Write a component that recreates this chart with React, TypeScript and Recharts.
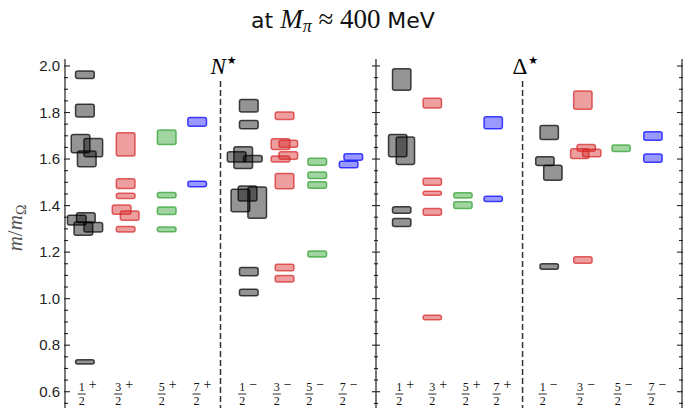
import React from "react";
import { ComposedChart, XAxis, YAxis, ReferenceArea, ReferenceLine } from "recharts";

// J^P columns, in the order they sit across each panel
const J_NUMERATORS = ["1", "3", "5", "7", "1", "3", "5", "7"];
const PARITIES = ["+", "+", "+", "+", "\u2212", "\u2212", "\u2212", "\u2212"];

// x of each J^P column (panel units, 0..10)
const N_COLUMNS = [0.64, 1.95, 3.27, 4.25, 5.91, 7.06, 8.11, 9.2];
const D_COLUMNS = [0.84, 1.84, 2.84, 3.83, 5.66, 6.76, 8.01, 9.05];

// where the J^P tick labels sit
const N_LABEL_X = [0.54, 1.71, 3.11, 4.23, 5.7, 6.81, 7.85, 8.93];
const D_LABEL_X = [0.76, 1.84, 2.93, 3.94, 5.45, 6.67, 7.9, 9.0];

// parity split (dashed line)
const N_SPLIT = 5.0;
const D_SPLIT = 4.79;

// levels: [column, shift, m/mOmega, half error]
const N_LEVELS: [number, number, number, number][] = [
  [0, 0, 1.962, 0.016],
  [0, 0, 1.808, 0.027],
  [0, -0.14, 1.666, 0.039],
  [0, 0.27, 1.649, 0.039],
  [0, 0.06, 1.601, 0.034],
  [0, -0.26, 1.338, 0.021],
  [0, 0.03, 1.348, 0.021],
  [0, -0.05, 1.301, 0.029],
  [0, 0.27, 1.307, 0.02],
  [0, 0, 0.728, 0.009],
  [1, 0, 1.663, 0.05],
  [1, 0, 1.494, 0.021],
  [1, 0, 1.442, 0.011],
  [1, -0.13, 1.383, 0.02],
  [1, 0.13, 1.357, 0.02],
  [1, 0, 1.298, 0.012],
  [2, 0, 1.694, 0.031],
  [2, 0, 1.445, 0.011],
  [2, 0, 1.378, 0.016],
  [2, 0, 1.298, 0.01],
  [3, 0, 1.76, 0.019],
  [3, 0, 1.493, 0.012],
  [4, 0, 1.829, 0.027],
  [4, 0, 1.748, 0.018],
  [4, -0.39, 1.609, 0.022],
  [4, -0.18, 1.606, 0.047],
  [4, 0.13, 1.601, 0.014],
  [4, -0.27, 1.422, 0.048],
  [4, -0.04, 1.452, 0.032],
  [4, 0.27, 1.413, 0.067],
  [4, 0, 1.116, 0.018],
  [4, 0, 1.026, 0.014],
  [5, 0, 1.786, 0.016],
  [5, -0.13, 1.664, 0.023],
  [5, 0.12, 1.666, 0.015],
  [5, 0.12, 1.615, 0.016],
  [5, -0.13, 1.6, 0.013],
  [5, 0, 1.505, 0.033],
  [5, 0, 1.134, 0.014],
  [5, 0, 1.086, 0.014],
  [6, 0, 1.588, 0.015],
  [6, 0, 1.53, 0.014],
  [6, 0, 1.488, 0.014],
  [6, 0, 1.192, 0.013],
  [7, 0.07, 1.609, 0.014],
  [7, -0.08, 1.577, 0.014],
];

const D_LEVELS: [number, number, number, number][] = [
  [0, 0, 1.942, 0.046],
  [0, -0.13, 1.658, 0.048],
  [0, 0.12, 1.636, 0.059],
  [0, 0, 1.381, 0.014],
  [0, 0, 1.327, 0.017],
  [1, 0, 1.84, 0.021],
  [1, 0, 1.502, 0.015],
  [1, 0, 1.453, 0.009],
  [1, 0, 1.373, 0.015],
  [1, 0, 0.919, 0.01],
  [2, 0, 1.444, 0.011],
  [2, 0, 1.402, 0.014],
  [3, 0, 1.756, 0.026],
  [3, 0, 1.429, 0.011],
  [4, 0, 1.714, 0.03],
  [4, -0.14, 1.591, 0.019],
  [4, 0.12, 1.541, 0.032],
  [4, 0, 1.138, 0.012],
  [5, 0, 1.853, 0.039],
  [5, 0.11, 1.648, 0.015],
  [5, -0.1, 1.623, 0.021],
  [5, 0.29, 1.626, 0.016],
  [5, 0, 1.166, 0.014],
  [6, 0, 1.646, 0.014],
  [7, 0, 1.699, 0.018],
  [7, 0, 1.604, 0.018],
];

const Y_TICKS = [
  0.55, 0.6, 0.65, 0.7, 0.75, 0.8, 0.85, 0.9, 0.95, 1.0, 1.05, 1.1, 1.15, 1.2,
  1.25, 1.3, 1.35, 1.4, 1.45, 1.5, 1.55, 1.6, 1.65, 1.7, 1.75, 1.8, 1.85, 1.9,
  1.95, 2.0,
];

const Y_DOMAIN: [number, number] = [0.5, 2.03];
const X_DOMAIN: [number, number] = [0, 10];

const COLORS = ["#000000", "#d62728", "#2ca02c", "#0000ff"];
const FILL_OPACITY = [0.42, 0.45, 0.45, 0.4];
const BOX_HALF = 0.3;
const AXIS_COLOR = "#222";
const SERIF = "'Liberation Serif', 'DejaVu Serif', serif";

const CHART_H = 435;
const MARGIN = { top: 59, right: 0, bottom: 0, left: 0 };

function makeYTick(mode: "left" | "mid" | "right") {
  return (props: any) => {
    const { x, y, payload } = props;
    const v = payload.value;
    const major = Math.abs(v * 5 - Math.round(v * 5)) < 1e-6;
    const len = major ? 5 : 3;
    let x1 = x;
    let x2 = x;
    if (mode === "left") {
      x1 = x - 1;
      x2 = x + len;
    } else if (mode === "mid") {
      x1 = x - len + 1;
      x2 = x + len - 1;
    } else {
      x1 = x - len;
      x2 = x + 1;
    }
    return (
      <g>
        <line x1={x1} x2={x2} y1={y} y2={y} stroke={AXIS_COLOR} strokeWidth={1.1} />
        {mode === "left" && major && (
          <text
            x={x - 5}
            y={y}
            dy={5}
            textAnchor="end"
            fontSize={15}
            fontFamily="'Liberation Sans', Arial, sans-serif"
            fill="#222"
          >
            {v.toFixed(1)}
          </text>
        )}
      </g>
    );
  };
}

function makeXTick(labelX: number[]) {
  return (props: any) => {
    const { x, y, payload } = props;
    const i = labelX.indexOf(payload.value);
    if (i < 0) return <g />;
    return (
      <g fontFamily={SERIF}>
        <text x={x} y={y - 24.5} textAnchor="middle" fontSize={12} fill="#111">
          {J_NUMERATORS[i]}
        </text>
        <line x1={x - 4} x2={x + 4} y1={y - 21} y2={y - 21} stroke="#111" strokeWidth={0.9} />
        <text x={x} y={y - 10} textAnchor="middle" fontSize={12} fill="#111">
          2
        </text>
        <text x={x + 11} y={y - 26} textAnchor="middle" fontSize={14} fill="#111">
          {PARITIES[i]}
        </text>
      </g>
    );
  };
}

function Boxes(levels: [number, number, number, number][], columns: number[]) {
  return levels.map(([c, dx, m, e], i) => {
    const xc = columns[c] + dx;
    const k = c % 4;
    const col = COLORS[k];
    return (
      <ReferenceArea
        key={i}
        yAxisId="l"
        x1={xc - BOX_HALF}
        x2={xc + BOX_HALF}
        y1={m - e}
        y2={m + e}
        ifOverflow="visible"
        shape={(p: any) => (
          <rect
            x={p.x}
            y={p.y}
            width={p.width}
            height={p.height}
            rx={2}
            fill={col}
            fillOpacity={FILL_OPACITY[k]}
            stroke={col}
            strokeOpacity={0.72}
            strokeWidth={1.5}
          />
        )}
      />
    );
  });
}

function splitLabel(main: string, italic: boolean) {
  return (props: any) => {
    const vb = props.viewBox || {};
    return (
      <text x={vb.x - 10} y={vb.y - 7} fontFamily={SERIF} fontSize={23} fill="#000">
        <tspan fontStyle={italic ? "italic" : "normal"}>{main}</tspan>
        <tspan fontSize={11} dy={-10} dx={1} fontFamily="'DejaVu Sans', sans-serif">
          {"\u2605"}
        </tspan>
      </text>
    );
  };
}

function SplitLine({ x, name, italic }: { x: number; name: string; italic: boolean }) {
  return (
    <ReferenceLine
      yAxisId="l"
      segment={[
        { x, y: 1.935 },
        { x, y: 0.5 },
      ]}
      stroke="#333"
      strokeWidth={1.5}
      strokeDasharray="6 3"
      ifOverflow="visible"
      label={splitLabel(name, italic)}
    />
  );
}

function yLabel(props: any) {
  const vb = props.viewBox || { x: 0, y: 59, height: 356 };
  const cx = vb.x + 17;
  const cy = vb.y + vb.height / 2 - 9;
  return (
    <text
      x={cx}
      y={cy}
      dy={5}
      transform={`rotate(-90 ${cx} ${cy})`}
      textAnchor="middle"
      fontFamily={SERIF}
      fontSize={21}
      fill="#555"
    >
      <tspan fontStyle="italic">m</tspan>
      <tspan>/</tspan>
      <tspan fontStyle="italic">m</tspan>
      <tspan fontSize={14} dy={4}>
        {"\u03a9"}
      </tspan>
    </text>
  );
}

function LeftPanel() {
  return (
    <ComposedChart width={376} height={CHART_H} margin={MARGIN}>
      <XAxis
        type="number"
        dataKey="x"
        domain={X_DOMAIN}
        allowDataOverflow
        ticks={N_LABEL_X}
        interval={0}
        axisLine={false}
        tickLine={false}
        tickSize={0}
        tickMargin={0}
        height={20}
        tick={makeXTick(N_LABEL_X)}
      />
      <YAxis
        yAxisId="l"
        type="number"
        domain={Y_DOMAIN}
        allowDataOverflow
        ticks={Y_TICKS}
        interval={0}
        width={65}
        tickLine={false}
        tickSize={0}
        tickMargin={0}
        axisLine={{ stroke: AXIS_COLOR, strokeWidth: 1.2 }}
        tick={makeYTick("left")}
        label={yLabel}
      />
      {Boxes(N_LEVELS, N_COLUMNS)}
      {SplitLine({ x: N_SPLIT, name: "N", italic: true })}
    </ComposedChart>
  );
}

function RightPanel() {
  return (
    <ComposedChart width={326} height={CHART_H} margin={MARGIN}>
      <XAxis
        type="number"
        dataKey="x"
        domain={X_DOMAIN}
        allowDataOverflow
        ticks={D_LABEL_X}
        interval={0}
        axisLine={false}
        tickLine={false}
        tickSize={0}
        tickMargin={0}
        height={20}
        tick={makeXTick(D_LABEL_X)}
      />
      <YAxis
        yAxisId="l"
        type="number"
        domain={Y_DOMAIN}
        allowDataOverflow
        ticks={Y_TICKS}
        interval={0}
        width={10}
        tickLine={false}
        tickSize={0}
        tickMargin={0}
        axisLine={{ stroke: AXIS_COLOR, strokeWidth: 1.2 }}
        tick={makeYTick("mid")}
      />
      <YAxis
        yAxisId="r"
        orientation="right"
        type="number"
        domain={Y_DOMAIN}
        allowDataOverflow
        ticks={Y_TICKS}
        interval={0}
        width={10}
        tickLine={false}
        tickSize={0}
        tickMargin={0}
        axisLine={{ stroke: AXIS_COLOR, strokeWidth: 1.2 }}
        tick={makeYTick("right")}
      />
      {Boxes(D_LEVELS, D_COLUMNS)}
      {SplitLine({ x: D_SPLIT, name: "\u0394", italic: false })}
    </ComposedChart>
  );
}

export default function App() {
  return (
    <div
      style={{
        position: "absolute",
        left: 0,
        top: 0,
        width: 683,
        height: 408,
        overflow: "hidden",
        background: "#fff",
      }}
    >
      <svg width={683} height={45} style={{ position: "absolute", left: 0, top: 0 }}>
        <text x={343} y={28} textAnchor="middle" fill="#111" style={{ whiteSpace: "pre" }}>
          <tspan fontFamily="'DejaVu Sans', sans-serif" fontSize={22}>
            {"at "}
          </tspan>
          <tspan fontFamily={SERIF} fontStyle="italic" fontSize={27}>
            M
          </tspan>
          <tspan fontFamily={SERIF} fontStyle="italic" fontSize={18} dy={4}>
            {"\u03c0"}
          </tspan>
          <tspan fontFamily={SERIF} fontSize={27} dy={-4}>
            {" \u2248 400 "}
          </tspan>
          <tspan fontFamily="'DejaVu Sans', sans-serif" fontSize={22}>
            MeV
          </tspan>
        </text>
      </svg>
      <div style={{ position: "absolute", left: 0, top: 0 }}>
        <LeftPanel />
      </div>
      <div style={{ position: "absolute", left: 366, top: 0 }}>
        <RightPanel />
      </div>
    </div>
  );
}
